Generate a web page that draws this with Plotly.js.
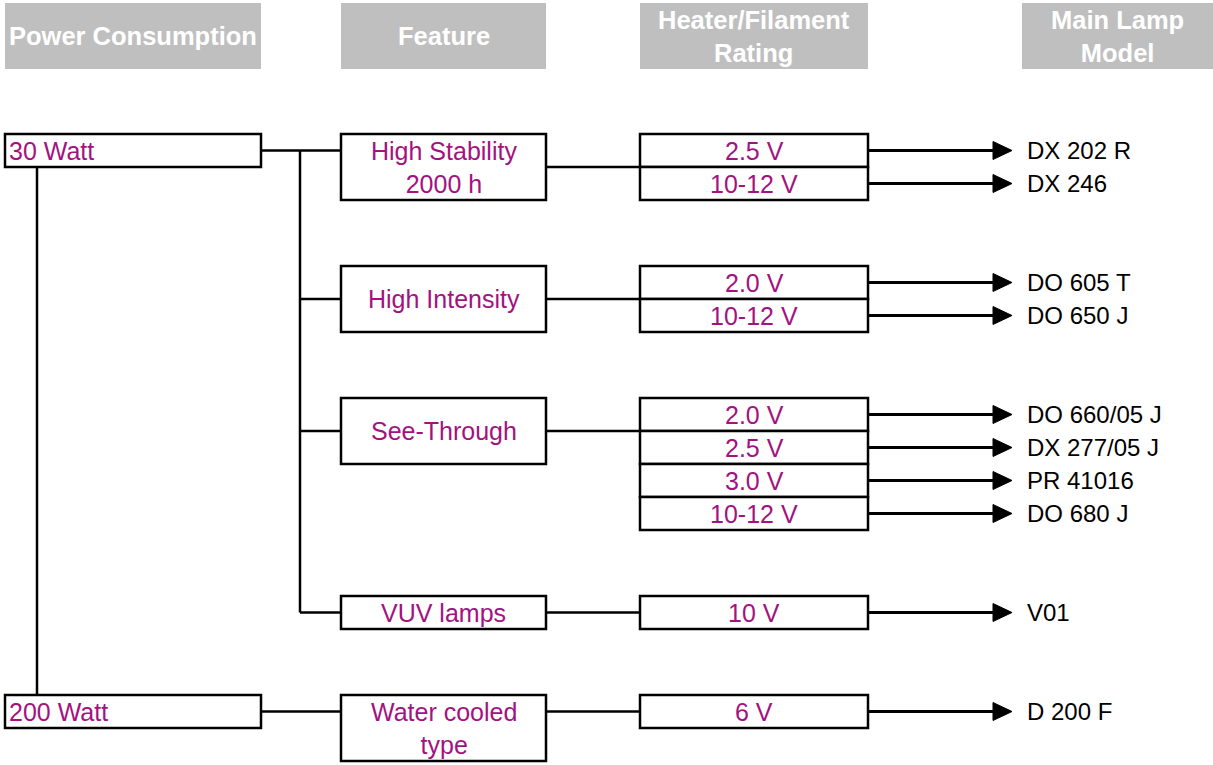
<!DOCTYPE html>
<html>
<head>
<meta charset="utf-8">
<script src="https://cdn.plot.ly/plotly-3.0.1.min.js"></script>
<style>html,body{margin:0;padding:0;background:#fff;}#chart{width:1213px;height:765px;}</style>
</head>
<body>
<div id="chart"></div>
<script>
// ---- data ----
const headers = ["Power Consumption", "Feature", "Heater/Filament<br>Rating", "Main Lamp<br>Model"];
const powers = ["30 Watt", "200 Watt"];
const features = ["High Stability<br>2000 h", "High Intensity", "See-Through", "VUV lamps", "Water cooled<br>type"];
const featurePower = [0, 0, 0, 0, 1];
const ratings = [
  ["2.5 V", "10-12 V"],
  ["2.0 V", "10-12 V"],
  ["2.0 V", "2.5 V", "3.0 V", "10-12 V"],
  ["10 V"],
  ["6 V"]
];
const models = [
  ["DX 202 R", "DX 246"],
  ["DO 605 T", "DO 650 J"],
  ["DO 660/05 J", "DX 277/05 J", "PR 41016", "DO 680 J"],
  ["V01"],
  ["D 200 F"]
];

// ---- layout / style ----
const W = 1213, H = 765;
const ROW = 33, TOP = 134, GAP_ROWS = 2;
const headCols = [[5, 261], [341, 546], [640, 868], [1022, 1213]];
const headY = [3, 69];
const colPower = [5, 261], colFeat = [341, 546], colRate = [640, 868];
const powerTrunkX = 37, featTrunkX = 300;
const arrowEnd = 1012, modelX = 1025;
const PURPLE = "#a31280", GRAY = "#bfbfbf";
const FONT = "Liberation Sans, Arial, sans-serif";
const FS_HEAD = 25.5, FS_TXT = 25, FS_MODEL = 24;

const rowY = r => TOP + r * ROW;
const shapes = [], annotations = [];

function box(x0, x1, y0, y1, fill, lw) {
  shapes.push({type: "rect", xref: "x", yref: "y", x0: x0, x1: x1, y0: y0, y1: y1,
    fillcolor: fill, line: {color: lw ? "#000" : fill, width: lw || 0}, layer: "above"});
}
function line(x0, y0, x1, y1, w) {
  shapes.push({type: "line", xref: "x", yref: "y", x0: x0, y0: y0, x1: x1, y1: y1,
    line: {color: "#000", width: w || 2}, layer: "below"});
}
function text(t, x, y, anchor, color, size, bold) {
  annotations.push({text: bold ? "<b>" + t + "</b>" : t, x: x, y: y, xref: "x", yref: "y",
    xanchor: anchor, yanchor: "middle", showarrow: false, align: "center",
    font: {family: FONT, size: size, color: color}});
}

// headers
headers.forEach((h, i) => {
  const c = headCols[i];
  box(c[0], c[1], headY[0], headY[1], GRAY, 0);
  text(h, (c[0] + c[1]) / 2, (headY[0] + headY[1]) / 2, "center", "#ffffff", FS_HEAD, true);
});

// compute group rows
let r = 0;
const groupStart = [];
features.forEach((f, i) => {
  const nLines = f.split("<br>").length;
  const fRows = Math.max(Math.min(2, ratings[i].length), nLines);
  groupStart.push({start: r, fRows: fRows});
  r += Math.max(fRows, ratings[i].length) + GAP_ROWS;
});

// power boxes
const powerCenter = [];
powers.forEach((p, pi) => {
  const fi = featurePower.indexOf(pi);
  const s = groupStart[fi].start;
  const y0 = rowY(s), y1 = rowY(s + 1);
  box(colPower[0], colPower[1], y0, y1, "#ffffff", 2.5);
  text(p, colPower[0] + 2, (y0 + y1) / 2, "left", PURPLE, FS_TXT);
  powerCenter.push((y0 + y1) / 2);
});
// vertical line between power boxes
line(powerTrunkX, rowY(groupStart[0].start + 1), powerTrunkX, powerCenter[powerCenter.length - 1] - ROW / 2, 2.5);

// features, ratings, models
powers.forEach((p, pi) => {
  const fis = features.map((f, i) => i).filter(i => featurePower[i] === pi);
  const py = powerCenter[pi];
  line(colPower[1], py, colFeat[0], py, 2.5);
  let lastY = py;
  fis.forEach((fi, k) => {
    const g = groupStart[fi];
    const fy0 = rowY(g.start), fy1 = rowY(g.start + g.fRows);
    const cy = k === 0 ? py : (fy0 + fy1) / 2;
    if (k > 0) line(featTrunkX, cy, colFeat[0], cy, 2.5);
    lastY = cy;
    box(colFeat[0], colFeat[1], fy0, fy1, "#ffffff", 2.5);
    text(features[fi], (colFeat[0] + colFeat[1]) / 2, (fy0 + fy1) / 2, "center", PURPLE, FS_TXT);
    // feature -> rating connector
    const nr = ratings[fi].length;
    const ly = rowY(g.start) + Math.min(g.fRows, nr) * ROW / 2;
    line(colFeat[1], ly, colRate[0], ly, 2.5);
    ratings[fi].forEach((rt, j) => {
      const ry0 = rowY(g.start + j), ry1 = rowY(g.start + j + 1), rc = (ry0 + ry1) / 2;
      box(colRate[0], colRate[1], ry0, ry1, "#ffffff", 2.5);
      text(rt, (colRate[0] + colRate[1]) / 2, rc, "center", PURPLE, FS_TXT);
      // arrow
      line(colRate[1], rc, arrowEnd - 16, rc, 3);
      shapes.push({type: "path", xref: "x", yref: "y",
        path: "M" + (arrowEnd - 19) + "," + (rc - 9) + " L" + arrowEnd + "," + rc + " L" + (arrowEnd - 19) + "," + (rc + 9) + " Z",
        fillcolor: "#000", line: {color: "#000", width: 1}});
      text(models[fi][j], modelX, rc, "left", "#000000", FS_MODEL);
    });
  });
  if (fis.length > 1) line(featTrunkX, py, featTrunkX, lastY, 2.5);
});

const layout = {
  width: W, height: H,
  margin: {l: 0, r: 0, t: 0, b: 0},
  paper_bgcolor: "#ffffff", plot_bgcolor: "#ffffff",
  xaxis: {range: [0, W], visible: false, fixedrange: true},
  yaxis: {range: [H, 0], visible: false, fixedrange: true},
  shapes: shapes, annotations: annotations, showlegend: false
};
Plotly.newPlot("chart", [{x: [], y: [], type: "scatter", mode: "markers", hoverinfo: "skip"}], layout, {staticPlot: true, displayModeBar: false});
</script>
</body>
</html>
